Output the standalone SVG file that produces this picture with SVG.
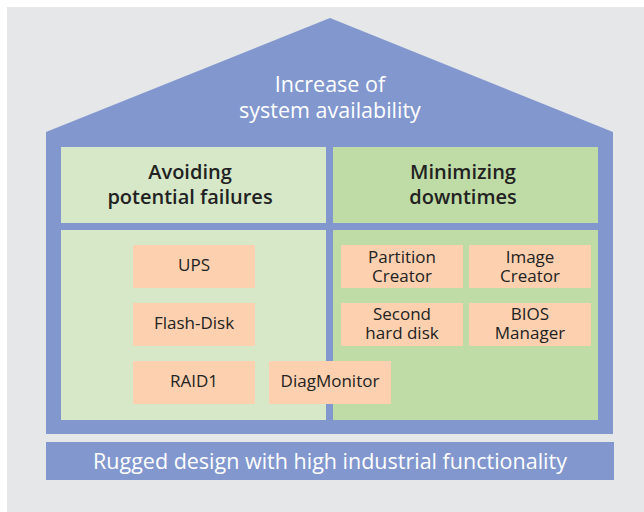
<svg xmlns="http://www.w3.org/2000/svg" width="644" height="512" viewBox="0 0 644 512">
<style>
.bg{fill:#e6e7e9}
.blue{fill:#8197ce}
.lg{fill:#d6e8c8}
.dg{fill:#bfdca6}
.box{fill:#fdd1b0}
.w{font-family:"Open Sans","Liberation Sans",sans-serif;fill:#ffffff;text-anchor:middle}
.hd{font-family:"Open Sans","Liberation Sans",sans-serif;font-size:20px;font-weight:600;fill:#222222;text-anchor:middle}
.bt{font-family:"Open Sans","Liberation Sans",sans-serif;font-size:17px;fill:#222222;text-anchor:middle}
</style>
<rect class="bg" x="7" y="7" width="637" height="505"/>
<g id="house">
<polygon class="blue" points="46,132 330,18 613,132 613,434 46,434"/>
<text class="w" font-size="21.5" x="330" y="92">Increase of</text>
<text class="w" font-size="21.5" x="330" y="118">system availability</text>
</g>
<g id="avoiding">
<rect class="lg" x="61" y="147" width="265" height="76"/>
<text class="hd" x="190" y="179">Avoiding</text>
<text class="hd" x="190" y="204">potential failures</text>
</g>
<g id="minimizing">
<rect class="dg" x="333" y="147" width="265" height="76"/>
<text class="hd" x="463" y="179">Minimizing</text>
<text class="hd" x="463" y="204">downtimes</text>
</g>
<rect class="lg" x="61" y="230" width="265" height="190"/>
<rect class="dg" x="333" y="230" width="265" height="190"/>
<g id="ups">
<rect class="box" x="133" y="245" width="122" height="43"/>
<text class="bt" x="194" y="271">UPS</text>
</g>
<g id="flashdisk">
<rect class="box" x="133" y="303" width="122" height="43"/>
<text class="bt" x="194" y="329">Flash-Disk</text>
</g>
<g id="raid1">
<rect class="box" x="133" y="361" width="122" height="43"/>
<text class="bt" x="194" y="387">RAID1</text>
</g>
<g id="diagmonitor">
<rect class="box" x="269" y="361" width="122" height="43"/>
<text class="bt" x="330" y="387">DiagMonitor</text>
</g>
<g id="partition">
<rect class="box" x="341" y="245" width="122" height="43"/>
<text class="bt" x="402" y="263">Partition</text>
<text class="bt" x="402" y="281.5">Creator</text>
</g>
<g id="image">
<rect class="box" x="469" y="245" width="122" height="43"/>
<text class="bt" x="530" y="263">Image</text>
<text class="bt" x="530" y="281.5">Creator</text>
</g>
<g id="second">
<rect class="box" x="341" y="303" width="122" height="43"/>
<text class="bt" x="402" y="320">Second</text>
<text class="bt" x="402" y="338.5">hard disk</text>
</g>
<g id="bios">
<rect class="box" x="469" y="303" width="122" height="43"/>
<text class="bt" x="530" y="320">BIOS</text>
<text class="bt" x="530" y="338.5">Manager</text>
</g>
<g id="rugged">
<rect class="blue" x="46" y="442" width="568" height="38"/>
<text class="w" font-size="21.5" x="330" y="468.5">Rugged design with high industrial functionality</text>
</g>
<g id="connectors"/>
</svg>
